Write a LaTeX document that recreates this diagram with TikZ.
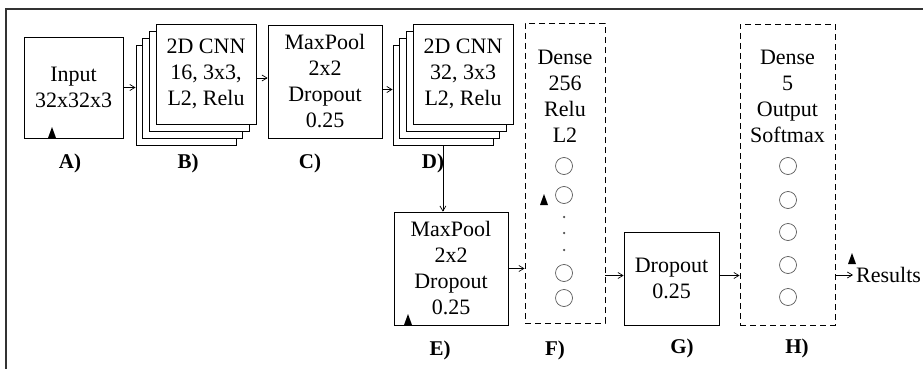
\documentclass[tikz,border=0pt]{standalone}
\usepackage{fontspec}
\setmainfont{Liberation Serif}
\usepackage{tikz}
\usetikzlibrary{arrows.meta}
\tikzset{
  layer/.style  ={draw, fill=white, line width=0.8pt, minimum width=100, minimum height=100, inner sep=0pt, align=center},
  blockS/.style ={draw, line width=0.8pt, inner sep=0pt, align=center},
  denseS/.style ={draw, dashed, dash pattern=on 6pt off 4pt, line width=0.9pt, inner sep=0pt},
  neuron/.style ={circle, draw=black!65, line width=0.7pt, minimum size=17, inner sep=0pt},
  dotS/.style   ={circle, fill=black!70, minimum size=2.5, inner sep=0pt},
  lbl/.style    ={font=\fontsize{21}{25}\selectfont\bfseries},
  flow/.style   ={-{Straight Barb[length=5pt,width=6pt]}, line width=0.7pt},
  frameS/.style ={draw=black!80, line width=1.8pt},
  uptri/.pic    ={\fill (-4,0) -- (4,0) -- (0,-11) -- cycle;},
}

\begin{document}
\begin{tikzpicture}[x=1pt, y=-1pt, font=\fontsize{22}{26}\selectfont]
  \useasboundingbox (0,0) rectangle (923,369);
  \draw[frameS] (6,369) -- (6,9) -- (923,9);
  % A) input
  \node[blockS, minimum width=99, minimum height=101] (inA) at (73.5,87.5) {Input\\32x32x3};
  \pic at (52,138) {uptri};
  \node[lbl] (labA) at (70,163) {A)};
  % B) first conv stack
  \foreach \k in {3,2,1}{ \node[layer] (cnnB\k) at ({206-6.7*\k},{74+7*\k}) {}; }
  \node[layer] (cnnB0) at (206,74) {2D CNN\\16, 3x3,\\L2, Relu};
  \node[lbl] (labB) at (188,163) {B)};
  % C) pooling
  \node[blockS, minimum width=114, minimum height=113] (poolC) at (325,81.5) {MaxPool\\2x2\\Dropout\\0.25};
  \node[lbl] (labC) at (310,163) {C)};
  % D) second conv stack
  \foreach \k in {3,2,1}{ \node[layer] (cnnD\k) at ({463-6.7*\k},{74+7*\k}) {}; }
  \node[layer] (cnnD0) at (463,74) {2D CNN\\32, 3x3\\L2, Relu};
  \node[lbl] (labD) at (433,163) {D)};
  % E) pooling
  \node[blockS, minimum width=114, minimum height=113] (poolE) at (451,268.5) {MaxPool\\2x2\\Dropout\\0.25};
  \pic at (408,325) {uptri};
  \node[lbl] (labE) at (440,350) {E)};
  % F) dense 256
  \node[denseS, minimum width=80, minimum height=300] (denseF) at (565,173) {};
  \node[align=center] (txtF) at (565,96.5) {Dense\\256\\Relu\\L2};
  \foreach \y [count=\i] in {166,195,273,298}{ \node[neuron] (nF\i) at (564,\y) {}; }
  \foreach \y [count=\i] in {217,233,250}{ \node[dotS] (dF\i) at (564,\y) {}; }
  \pic at (544,205) {uptri};
  \node[lbl] (labF) at (555,350) {F)};
  % G) dropout
  \node[blockS, minimum width=95, minimum height=93] (dropG) at (671.5,278.5) {Dropout\\0.25};
  \node[lbl] (labG) at (682,348) {G)};
  % H) output
  \node[denseS, minimum width=95, minimum height=301] (outH) at (787.5,174.5) {};
  \node[align=center] (txtH) at (787.5,96) {Dense\\5\\Output\\Softmax};
  \foreach \y [count=\i] in {166,200,232,265,297}{ \node[neuron] (nH\i) at (788,\y) {}; }
  \node[lbl] (labH) at (797,348) {H)};
  \node[anchor=west, inner sep=3pt] (res) at (853,275) {Results};
  \pic at (852,264) {uptri};
  % connectors
  \draw[flow] (inA.east) -- (inA.east -| cnnB3.west);
  \draw[flow] ([yshift=-4pt]cnnB0.east) -- ([yshift=-4pt]cnnB0.east -| poolC.west);
  \draw[flow] ([yshift=-8pt]poolC.east) -- ([yshift=-8pt]poolC.east -| cnnD3.west);
  \draw[flow] (cnnD3.south) -- (cnnD3.south |- poolE.north);
  \draw[flow] (poolE.east) -- (poolE.east -| denseF.west);
  \draw[flow] ([yshift=3pt]dropG.west -| denseF.east) -- ([yshift=3pt]dropG.west);
  \draw[flow] ([yshift=3pt]dropG.east) -- ([yshift=3pt]dropG.east -| outH.west);
  \draw[flow] (res.west -| outH.east) -- (res.west);
\end{tikzpicture}
\end{document}
